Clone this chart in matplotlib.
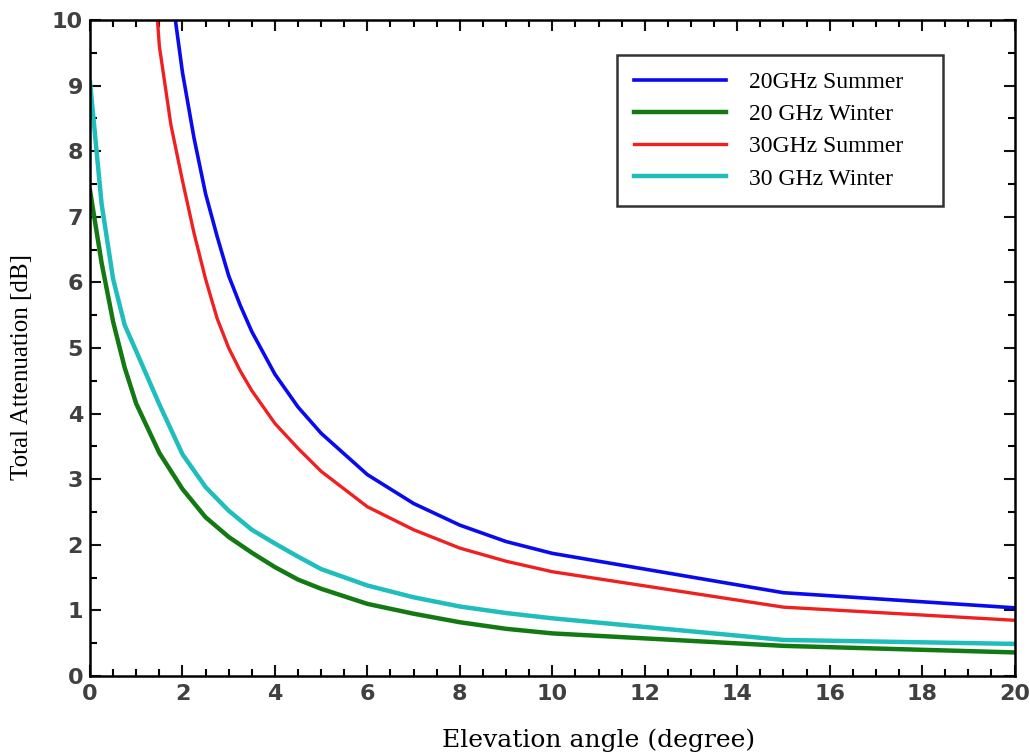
import matplotlib
matplotlib.use("Agg")
import matplotlib.pyplot as plt
from matplotlib.ticker import MultipleLocator

# elevation angle (degree)
x_summer = [1.0, 1.5, 1.75, 2.0, 2.25, 2.5, 2.75, 3.0, 3.25, 3.5, 4.0, 4.5, 5.0, 6.0, 7.0, 8.0, 9.0, 10.0, 15.0, 20.0]
summer_20 = [18.0, 12.2, 10.5, 9.2, 8.2, 7.35, 6.7, 6.1, 5.65, 5.25, 4.6, 4.1, 3.7, 3.07, 2.63, 2.3, 2.05, 1.87, 1.27, 1.04]
summer_30 = [14.5, 9.6, 8.4, 7.55, 6.75, 6.05, 5.45, 5.0, 4.65, 4.35, 3.85, 3.47, 3.12, 2.58, 2.23, 1.95, 1.75, 1.59, 1.05, 0.85]

x_winter = [0.0, 0.25, 0.5, 0.75, 1.0, 1.5, 2.0, 2.5, 3.0, 3.5, 4.0, 4.5, 5.0, 6.0, 7.0, 8.0, 9.0, 10.0, 15.0, 20.0]
winter_20 = [7.4, 6.3, 5.4, 4.7, 4.15, 3.4, 2.85, 2.42, 2.12, 1.88, 1.66, 1.47, 1.33, 1.1, 0.95, 0.82, 0.72, 0.65, 0.46, 0.36]
winter_30 = [9.05, 7.2, 6.05, 5.35, 4.95, 4.14, 3.38, 2.88, 2.52, 2.23, 2.02, 1.82, 1.63, 1.38, 1.2, 1.06, 0.96, 0.88, 0.55, 0.49]

labels = ["20GHz Summer", "20 GHz Winter", "30GHz Summer", "30 GHz Winter"]

fig = plt.figure(figsize=(10.3, 7.54), dpi=100)
ax = fig.add_axes([0.0874, 0.1034, 0.8976, 0.8701])

ax.plot(x_summer, summer_20, color="#0a0af0", lw=2.6, label=labels[0])
ax.plot(x_winter, winter_20, color="#137a13", lw=3.2, label=labels[1])
ax.plot(x_summer, summer_30, color="#f02020", lw=2.4, label=labels[2])
ax.plot(x_winter, winter_30, color="#20bdbd", lw=3.2, label=labels[3])

ax.set_xlim(0, 20)
ax.set_ylim(0, 10)
ax.xaxis.set_major_locator(MultipleLocator(2))
ax.xaxis.set_minor_locator(MultipleLocator(0.5))
ax.yaxis.set_major_locator(MultipleLocator(1))
ax.yaxis.set_minor_locator(MultipleLocator(0.5))
ax.tick_params(which="both", direction="in", top=True, right=True, width=1.5)
ax.tick_params(which="major", length=8, labelsize=16, colors="#111111", labelcolor="#404040")
ax.tick_params(axis="x", which="major", pad=6)
ax.tick_params(axis="y", which="major", pad=5)
ax.tick_params(which="minor", length=5)
for lab in ax.get_xticklabels() + ax.get_yticklabels():
    lab.set_fontweight("bold")
    lab.set_family("DejaVu Sans")
for sp in ax.spines.values():
    sp.set_linewidth(1.8)

ax.set_xlabel("Elevation angle (degree)", family="DejaVu Serif", fontsize=18)
ax.set_ylabel("Total Attenuation [dB]", family="Liberation Serif", fontsize=18)
ax.xaxis.set_label_coords(0.55, -0.080)
ax.yaxis.set_label_coords(-0.062, 0.471)

# legend box spans the same region as in the source figure
leg = ax.legend(loc="upper left", bbox_to_anchor=(0.570, 0.5, 0.353, 0.4466), mode="expand",
                fancybox=False, framealpha=1, edgecolor="#333333",
                handlelength=3.9, handletextpad=1.0, borderpad=0.7, labelspacing=0.45,
                borderaxespad=0, prop={"family": "Liberation Serif", "size": 17})
leg.get_frame().set_linewidth(1.8)

fig.savefig("out.png", dpi=100)
